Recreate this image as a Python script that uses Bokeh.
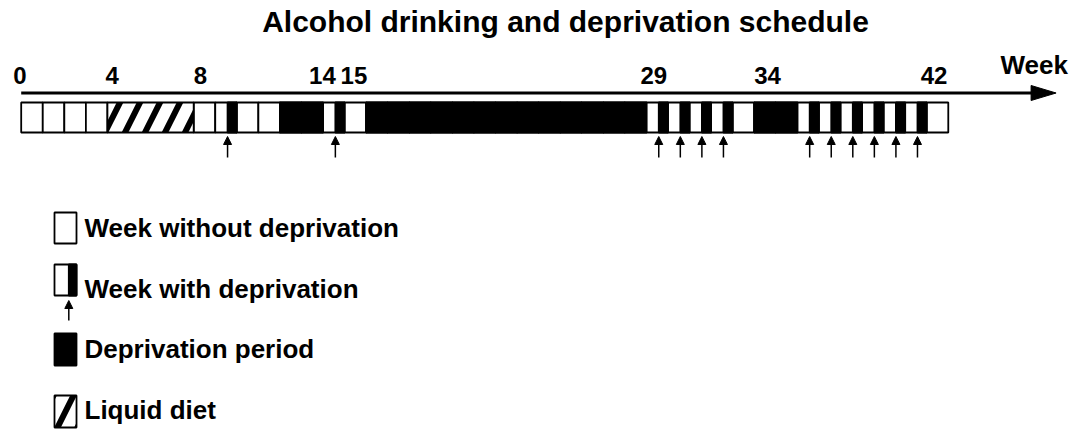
from bokeh.plotting import figure
from bokeh.models import ColumnDataSource, Range1d, Arrow, NormalHead
from bokeh.core.properties import value
from bokeh.embed import file_html
from bokeh.resources import INLINE

# ---------------- data ----------------
title_text = "Alcohol drinking and deprivation schedule"
axis_label = "Week"

# one entry per week (week index 0..42)
week_types = (["free"] * 4 + ["liquid"] * 4 +
              ["free", "depweek", "free", "free", "period", "period", "depweek", "free"] +
              ["period"] * 13 + ["depweek"] * 4 + ["free"] + ["period"] * 2 +
              ["depweek"] * 6 + ["free"])
n_weeks = len(week_types)
deprivation_days = 3          # deprivation days at the end of a "week with deprivation"
days_per_week = 7

tick_weeks = [0, 4, 8, 14, 15, 29, 34, 42]
tick_labels = ["0", "4", "8", "14", "15", "29", "34", "42"]
tick_offsets_px = [-8, -2, 0, -14, -4, -6, 0, -6]

legend_labels = ["Week without deprivation", "Week with deprivation",
                 "Deprivation period", "Liquid diet"]

# ---------------- layout ----------------
W, H = 1082, 432
ORIGIN = 0
PX_PER_WEEK = 21.56
BAR_X0_PAGE = 20.7


def px2w(px):
    return (px - BAR_X0_PAGE) / PX_PER_WEEK


FONT = value("Liberation Sans")
BAR_TOP, BAR_BOT = 102, 132
LINE_Y = 92.5
ARROW_TIP_Y, ARROW_TAIL_Y = 136, 157
BOX_LW = 1.8
HATCH = dict(hatch_pattern="/", hatch_color="black", hatch_weight=6, hatch_scale=40)

p = figure(width=W, height=H,
           x_range=Range1d(px2w(ORIGIN), px2w(ORIGIN + W)),
           y_range=Range1d(ORIGIN + H, ORIGIN),
           output_backend="svg", toolbar_location=None,
           x_axis_location=None, y_axis_location=None,
           min_border=0, outline_line_color=None, background_fill_color="white",
           border_fill_color="white")
p.grid.visible = False

# ---------------- bar ----------------
frac_white = (days_per_week - deprivation_days) / days_per_week
box_weeks = [i for i, t in enumerate(week_types) if t != "liquid"]
p.quad(left=box_weeks, right=[w + 1 for w in box_weeks], top=BAR_TOP, bottom=BAR_BOT,
       fill_color="white", line_color="black", line_width=BOX_LW)

# liquid diet: merged runs
runs = []
i = 0
while i < n_weeks:
    if week_types[i] == "liquid":
        j = i
        while j < n_weeks and week_types[j] == "liquid":
            j += 1
        runs.append((i, j))
        i = j
    else:
        i += 1
p.quad(left=[r[0] for r in runs], right=[r[1] for r in runs], top=BAR_TOP, bottom=BAR_BOT,
       fill_color="white", line_color="black", line_width=BOX_LW, **HATCH)

period_weeks = [i for i, t in enumerate(week_types) if t == "period"]
p.quad(left=period_weeks, right=[w + 1 for w in period_weeks], top=BAR_TOP, bottom=BAR_BOT,
       fill_color="black", line_color="black", line_width=BOX_LW)

dep_weeks = [i for i, t in enumerate(week_types) if t == "depweek"]
p.quad(left=[w + frac_white for w in dep_weeks], right=[w + 1 for w in dep_weeks],
       top=BAR_TOP, bottom=BAR_BOT, fill_color="black", line_color="black", line_width=BOX_LW)

# arrows under weeks with deprivation
arr_src = ColumnDataSource(dict(
    x=[w + frac_white for w in dep_weeks],
    y0=[ARROW_TAIL_Y] * len(dep_weeks),
    y1=[ARROW_TIP_Y] * len(dep_weeks)))
p.add_layout(Arrow(end=NormalHead(size=8, fill_color="black", line_color="black", line_width=1),
                   x_start="x", y_start="y0", x_end="x", y_end="y1",
                   line_width=1.5, line_color="black", source=arr_src))

# ---------------- time axis ----------------
axis_end = n_weeks + 5
head_len = 25 / PX_PER_WEEK
p.line(x=[0, axis_end - head_len * 0.6], y=[LINE_Y, LINE_Y], line_width=3.2, line_color="black")
p.patch(x=[axis_end - head_len, axis_end, axis_end - head_len],
        y=[LINE_Y - 7.5, LINE_Y, LINE_Y + 7.5], fill_color="black", line_color="black")

p.text(x=tick_weeks, y=[74.5] * len(tick_weeks), text=tick_labels,
       x_offset=tick_offsets_px, text_font=FONT, text_font_style="bold",
       text_font_size="24px", text_baseline="alphabetic", text_align="left",
       text_color="black")
p.text(x=[px2w(1000)], y=[64], text=[axis_label], text_font=FONT, text_font_style="bold",
       text_font_size="26px", text_baseline="alphabetic", text_align="left", text_color="black")

# title
p.text(x=[px2w(565)], y=[21], text=[title_text], text_font=FONT, text_font_style="bold",
       text_font_size="30px", text_baseline="alphabetic", text_align="center", text_color="black")

# ---------------- legend ----------------
LX0, LX1 = px2w(54), px2w(76)
LXMID = px2w(68.3)
rows_top = [212, 264, 333, 395]
rows_bot = [243, 295, 365, 427]
baselines = [227.5, 288, 348.5, 409.5]

# row 1: week without deprivation
p.quad(left=[LX0], right=[LX1], top=[rows_top[0]], bottom=[rows_bot[0]],
       fill_color="white", line_color="black", line_width=BOX_LW)
# row 2: week with deprivation
p.quad(left=[LX0], right=[LX1], top=[rows_top[1]], bottom=[rows_bot[1]],
       fill_color="white", line_color="black", line_width=BOX_LW)
p.quad(left=[LXMID], right=[LX1], top=[rows_top[1]], bottom=[rows_bot[1]],
       fill_color="black", line_color="black", line_width=BOX_LW)
leg_arr = ColumnDataSource(dict(x=[LXMID], y0=[320], y1=[300]))
p.add_layout(Arrow(end=NormalHead(size=8, fill_color="black", line_color="black", line_width=1),
                   x_start="x", y_start="y0", x_end="x", y_end="y1",
                   line_width=1.5, line_color="black", source=leg_arr))
# row 3: deprivation period
p.quad(left=[LX0], right=[LX1], top=[rows_top[2]], bottom=[rows_bot[2]],
       fill_color="black", line_color="black", line_width=BOX_LW)
# row 4: liquid diet
p.quad(left=[LX0], right=[LX1], top=[rows_top[3]], bottom=[rows_bot[3]],
       fill_color="white", line_color="black", line_width=BOX_LW, **HATCH)

p.text(x=[px2w(84)] * 4, y=baselines, text=legend_labels, text_font=FONT,
       text_font_style="bold", text_font_size="26px", text_baseline="alphabetic",
       text_align="left", text_color="black")

open("out.html", "w").write(file_html(p, INLINE))
